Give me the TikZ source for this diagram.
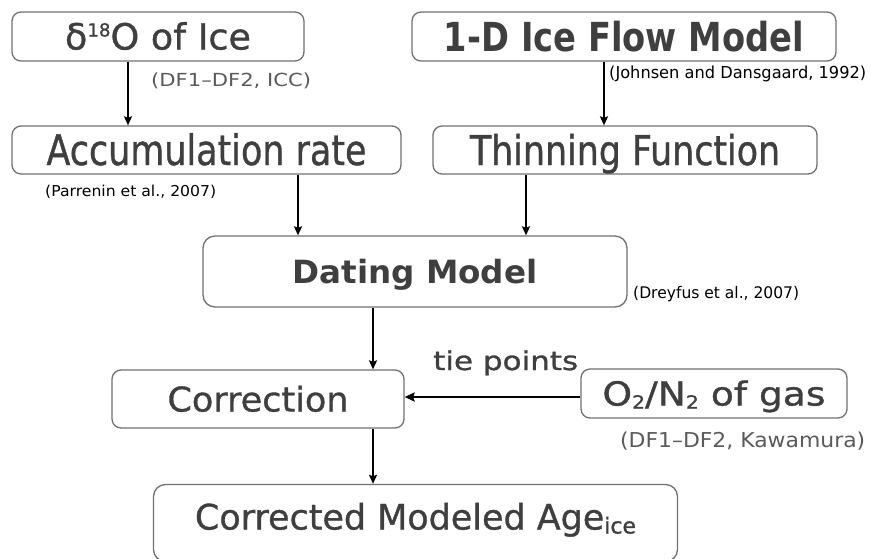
\documentclass[tikz,border=0pt]{standalone}
\usepackage{fontspec}
\setmainfont{DejaVu Sans}
\newfontfamily\heavy[FakeBold=1.0]{DejaVu Sans}
\usetikzlibrary{arrows.meta}
\definecolor{txt}{HTML}{3F3F3F}
\definecolor{gtxt}{HTML}{5A5A5A}
\definecolor{bord}{HTML}{707070}
\newcommand{\fitw}[2]{\resizebox{#1}{\height}{#2}}
\newcommand{\fs}[1]{\fontsize{#1}{#1}\selectfont}
\begin{document}
\begin{tikzpicture}[x=1pt,y=-1pt,
  box/.style={draw=bord, line width=1.3pt, rounded corners=9pt, inner sep=0pt, text=txt, text depth=0pt, align=center},
  arr/.style={line width=1.7pt, -{Stealth[length=9pt,width=8pt,inset=1.5pt]}},
  cite/.style={anchor=base west, inner sep=0pt, text=black},
  gcite/.style={anchor=base west, inner sep=0pt, text=gtxt}]
\useasboundingbox (0,0) rectangle (871,558);
\clip (0,0) rectangle (871,558);
% boxes
\node[box, minimum width=292pt, minimum height=49pt, text height=26pt, font=\heavy\fs{36}] (d18) at (158,36.5)
  {\fitw{186pt}{δ\raisebox{13pt}{\fs{18}18}O of Ice}};
\node[box, minimum width=424pt, minimum height=49pt, text height=29pt, font=\fs{40}\bfseries] (flow) at (624,36.5)
  {\fitw{360pt}{1-D Ice Flow Model}};
\node[box, minimum width=389pt, minimum height=48pt, text height=30pt, font=\heavy\fs{42}] (acc) at (206.5,150)
  {\fitw{320pt}{Accumulation rate}};
\node[box, minimum width=384pt, minimum height=48pt, text height=30pt, font=\heavy\fs{41}] (thin) at (625,150)
  {\fitw{310pt}{Thinning Function}};
\node[box, rounded corners=12pt, minimum width=424pt, minimum height=71pt, text height=23pt, font=\fs{32}\bfseries] (dating) at (415,271.5)
  {\fitw{245pt}{Dating Model}};
\node[box, minimum width=292pt, minimum height=58pt, text height=25pt, font=\heavy\fs{34}] (corr) at (258,399)
  {\fitw{181pt}{Correction}};
\node[box, minimum width=266pt, minimum height=49pt, text height=24pt, font=\heavy\fs{33}] (o2) at (714,393.5)
  {\fitw{223pt}{O\raisebox{-3pt}{\fs{18}2}/N\raisebox{-3pt}{\fs{18}2} of gas}};
\node[box, rounded corners=12pt, minimum width=524pt, minimum height=77pt, text height=26pt, font=\heavy\fs{35}] (age) at (415.5,523)
  {\fitw{441pt}{\raisebox{6.5pt}{Corrected Modeled Age\raisebox{-4pt}{\fs{22}ice}}}};
% labels
\node[gcite, font=\fs{18}] (l1) at (151,86) {\fitw{160pt}{(DF1–DF2, ICC)}};
\node[cite, font=\fs{16.5}] (l2) at (609,78) {\fitw{257pt}{(Johnsen and Dansgaard, 1992)}};
\node[cite, font=\fs{15}] (l3) at (45,196) {\fitw{171pt}{(Parrenin et al., 2007)}};
\node[cite, font=\fs{16}] (l4) at (633,298) {\fitw{166pt}{(Dreyfus et al., 2007)}};
\node[anchor=base west, inner sep=0pt, text=txt, font=\heavy\fs{26}] (tie) at (433,370) {\fitw{145pt}{tie points}};
\node[gcite, font=\fs{20.5}] (l5) at (620,447) {\fitw{245pt}{(DF1–DF2, Kawamura)}};
% connector positions
\coordinate (xa) at (128,0);
\coordinate (xb) at (604,0);
\coordinate (xc) at (298,0);
\coordinate (xd) at (526,0);
\coordinate (xe) at (373,0);
\coordinate (yt) at (0,397);
% connectors
\draw[arr] (d18.south -| xa) -- (acc.north -| xa);
\draw[arr] (flow.south -| xb) -- (thin.north -| xb);
\draw[arr] (acc.south -| xc) -- (dating.north -| xc);
\draw[arr] (thin.south -| xd) -- (dating.north -| xd);
\draw[arr] (dating.south -| xe) -- (corr.north -| xe);
\draw[arr, line width=2.6pt, -{Stealth[length=10pt,width=9pt,inset=1.5pt]}] (o2.west |- yt) -- (corr.east |- yt);
\draw[arr] (corr.south -| xe) -- (age.north -| xe);
\end{tikzpicture}
\end{document}
